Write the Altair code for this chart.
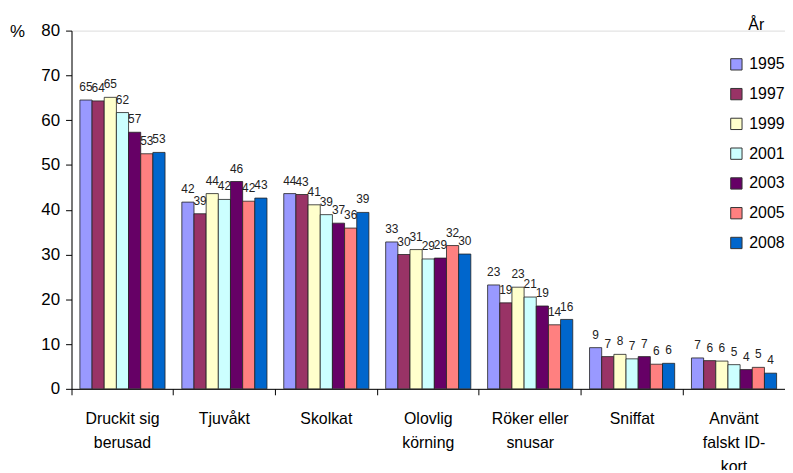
import altair as alt
import pandas as pd

categories = ["Druckit sig|berusad", "Tjuvåkt", "Skolkat", "Olovlig|körning",
              "Röker eller|snusar", "Sniffat", "Använt|falskt ID-|kort"]
years = ["1995", "1997", "1999", "2001", "2003", "2005", "2008"]
colors = ["#9999FF", "#993366", "#FFFFCC", "#CCFFFF", "#660066", "#FF8080", "#0066CC"]

# bar heights (per category, per year)
values = [
    [64.5, 64.3, 65.1, 61.7, 57.3, 52.5, 52.8],
    [41.7, 39.1, 43.6, 42.3, 46.3, 41.9, 42.6],
    [43.6, 43.4, 41.1, 38.9, 37.0, 35.9, 39.4],
    [32.8, 30.0, 31.1, 29.0, 29.2, 32.0, 30.1],
    [23.2, 19.2, 22.7, 20.5, 18.5, 14.3, 15.5],
    [9.2, 7.2, 7.7, 6.7, 7.2, 5.5, 5.7],
    [6.9, 6.3, 6.2, 5.4, 4.3, 4.8, 3.5],
]
labels = [
    [65, 64, 65, 62, 57, 53, 53],
    [42, 39, 44, 42, 46, 42, 43],
    [44, 43, 41, 39, 37, 36, 39],
    [33, 30, 31, 29, 29, 32, 30],
    [23, 19, 23, 21, 19, 14, 16],
    [9, 7, 8, 7, 7, 6, 6],
    [7, 6, 6, 5, 4, 5, 4],
]

rows = []
for ci, c in enumerate(categories):
    for yi, y in enumerate(years):
        rows.append({"cat": c, "year": y, "value": values[ci][yi], "label": str(labels[ci][yi])})
df = pd.DataFrame(rows)

FONT = "Liberation Sans"

x = alt.X("cat:N", sort=categories, title=None,
          scale=alt.Scale(paddingInner=0, paddingOuter=0),
          axis=alt.Axis(labelExpr="split(datum.label, '|')", labelAngle=0,
                        bandPosition=0, labelFontSize=16, labelLineHeight=24,
                        labelPadding=16, tickSize=6, labelColor="black",
                        domainColor="black", tickColor="black", labelFont=FONT))
xo = alt.XOffset("year:N", sort=years,
                 scale=alt.Scale(paddingInner=0, paddingOuter=0.69))

base = alt.Chart(df).encode(x=x, xOffset=xo)

bars = base.mark_bar(stroke="#222222", strokeWidth=0.8).encode(
    y=alt.Y("value:Q", scale=alt.Scale(domain=[0, 80]),
            axis=alt.Axis(values=list(range(0, 81, 10)), grid=False,
                          title="%", titleAngle=0, titleX=-55, titleY=1,
                          titleAlign="center", titleBaseline="middle",
                          titleFontSize=17, titleFontWeight="normal",
                          labelFontSize=17, labelPadding=6, tickSize=6,
                          labelColor="black", domainColor="black",
                          tickColor="black", titleColor="black",
                          labelFont=FONT, titleFont=FONT)),
    color=alt.Color("year:N", sort=years,
                    scale=alt.Scale(domain=years, range=colors),
                    legend=alt.Legend(title="År", orient="none",
                                      legendX=662, legendY=-14,
                                      symbolType="square", symbolSize=130,
                                      symbolStrokeColor="#333333",
                                      symbolStrokeWidth=1,
                                      labelFontSize=16, titleFontSize=16,
                                      titleFontWeight="normal",
                                      titleAnchor="middle", titlePadding=24,
                                      rowPadding=14, labelOffset=5,
                                      labelFont=FONT, titleFont=FONT,
                                      labelColor="black", titleColor="black")),
)

text = base.mark_text(baseline="bottom", dy=-6, fontSize=12, font=FONT,
                      color="#222222").encode(
    y="value:Q", text="label:N")

chart = (bars + text).properties(
    width=719, height=361,
    autosize=alt.AutoSizeParams(type="none"),
    padding={"left": 64, "top": 21, "right": 0, "bottom": 80},
).configure_view(stroke=None).configure(background="white")

chart.save("out.html", embed_options={"renderer": "svg", "actions": False})
